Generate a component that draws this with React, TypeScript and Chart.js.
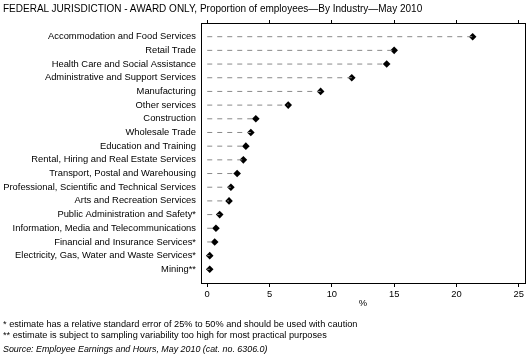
import React, { useEffect, useRef } from "react";
import { Chart, registerables } from "chart.js";

Chart.register(...registerables);

const categories: string[] = [
  "Accommodation and Food Services",
  "Retail Trade",
  "Health Care and Social Assistance",
  "Administrative and Support Services",
  "Manufacturing",
  "Other services",
  "Construction",
  "Wholesale Trade",
  "Education and Training",
  "Rental, Hiring and Real Estate Services",
  "Transport, Postal and Warehousing",
  "Professional, Scientific and Technical Services",
  "Arts and Recreation Services",
  "Public Administration and Safety*",
  "Information, Media and Telecommunications",
  "Financial and Insurance Services*",
  "Electricity, Gas, Water and Waste Services*",
  "Mining**",
];

const values: number[] = [
  21.3, 15.0, 14.4, 11.6, 9.1, 6.5, 3.9, 3.5, 3.1, 2.9, 2.4, 1.9, 1.75, 1.0, 0.7, 0.6, 0.2, 0.2,
];

const xTicks: number[] = [0, 5, 10, 15, 20, 25];

const titleText = "FEDERAL JURISDICTION - AWARD ONLY, Proportion of employees\u2014By Industry\u2014May 2010";
const footnotes: string[] = [
  "* estimate has a relative standard error of 25% to 50% and should be used with caution",
  "** estimate is subject to sampling variability too high for most practical purposes",
];
const sourceText = "Source: Employee Earnings and Hours, May 2010 (cat. no. 6306.0)";

const FONT = "'Liberation Sans', Arial, sans-serif";

export default function App() {
  const ref = useRef<HTMLCanvasElement | null>(null);

  useEffect(() => {
    if (!ref.current) return;
    const stemSets = values.map((v, i) => ({
      type: "line" as const,
      data: [
        { x: 0, y: i },
        { x: v, y: i },
      ],
      borderColor: "#8a8a8a",
      borderWidth: 1,
      borderDash: [5, 5],
      pointRadius: 0,
      pointHoverRadius: 0,
      xAxisID: "x",
      yAxisID: "y",
    }));
    const markerSet = {
      type: "line" as const,
      data: values.map((v, i) => ({ x: v, y: i })),
      showLine: false,
      pointStyle: "rectRot",
      pointRadius: 3.8,
      pointBackgroundColor: "#000",
      pointBorderColor: "#000",
      pointBorderWidth: 0,
      xAxisID: "x",
      yAxisID: "y",
    };
    const tickFont = { family: FONT, size: 9.4 };
    const chart = new Chart(ref.current, {
      type: "line",
      data: { datasets: [...stemSets, markerSet] as any },
      options: {
        animation: false,
        responsive: false,
        maintainAspectRatio: false,
        layout: { padding: 0 },
        plugins: { legend: { display: false }, tooltip: { enabled: false }, title: { display: false } },
        scales: {
          x: {
            type: "linear",
            position: "bottom",
            min: -0.5,
            max: 25.5,
            afterBuildTicks: (scale: any) => {
              scale.ticks = xTicks.map((v) => ({ value: v }));
            },
            ticks: { font: tickFont, color: "#000", padding: 2, maxRotation: 0 },
            grid: { drawOnChartArea: false, drawTicks: true, tickLength: 4, color: "#000" },
            border: { display: true, color: "#000", width: 1 },
            title: {
              display: true,
              text: "%",
              color: "#000",
              font: tickFont,
              padding: { top: 0, bottom: 54 },
            },
            afterFit: (scale: any) => {
              scale.height = 80;
            },
          },
          x2: {
            type: "linear",
            position: "top",
            min: -0.5,
            max: 25.5,
            afterBuildTicks: (scale: any) => {
              scale.ticks = xTicks.map((v) => ({ value: v }));
            },
            ticks: { display: false },
            grid: { drawOnChartArea: false, drawTicks: true, tickLength: 3, color: "#000" },
            border: { display: true, color: "#000", width: 1 },
            afterFit: (scale: any) => {
              scale.height = 23;
            },
          },
          y: {
            type: "linear",
            position: "left",
            reverse: true,
            min: -1,
            max: categories.length,
            afterBuildTicks: (scale: any) => {
              scale.ticks = categories.map((_, i) => ({ value: i }));
            },
            ticks: {
              autoSkip: false,
              font: tickFont,
              color: "#000",
              padding: 5,
              callback: (v: any) => categories[v as number] ?? "",
            },
            grid: { drawOnChartArea: false, drawTicks: false },
            border: { display: true, color: "#000", width: 1 },
            afterFit: (scale: any) => {
              scale.width = 201;
            },
          },
          y2: {
            type: "linear",
            position: "right",
            min: 0,
            max: 1,
            ticks: { display: false },
            grid: { drawOnChartArea: false, drawTicks: false },
            border: { display: true, color: "#000", width: 1 },
            afterFit: (scale: any) => {
              scale.width = 4;
            },
          },
        },
      } as any,
    });
    return () => chart.destroy();
  }, []);

  return (
    <div style={{ position: "absolute", left: 0, top: 0, width: 529, height: 363, background: "#fff", fontFamily: FONT, color: "#000" }}>
      <canvas ref={ref} width={529} height={363} style={{ position: "absolute", left: 0, top: 0, width: 529, height: 363 }} />
      <div style={{ position: "absolute", left: 3, top: 3, fontSize: 10, lineHeight: "12px", whiteSpace: "nowrap" }}>{titleText}</div>
      <div style={{ position: "absolute", left: 3, top: 319, fontSize: 9.2, lineHeight: "11px", whiteSpace: "nowrap" }}>
        {footnotes.map((f) => (
          <div key={f}>{f}</div>
        ))}
      </div>
      <div style={{ position: "absolute", left: 3, top: 344, fontSize: 8.9, lineHeight: "11px", whiteSpace: "nowrap", fontStyle: "italic" }}>{sourceText}</div>
    </div>
  );
}
